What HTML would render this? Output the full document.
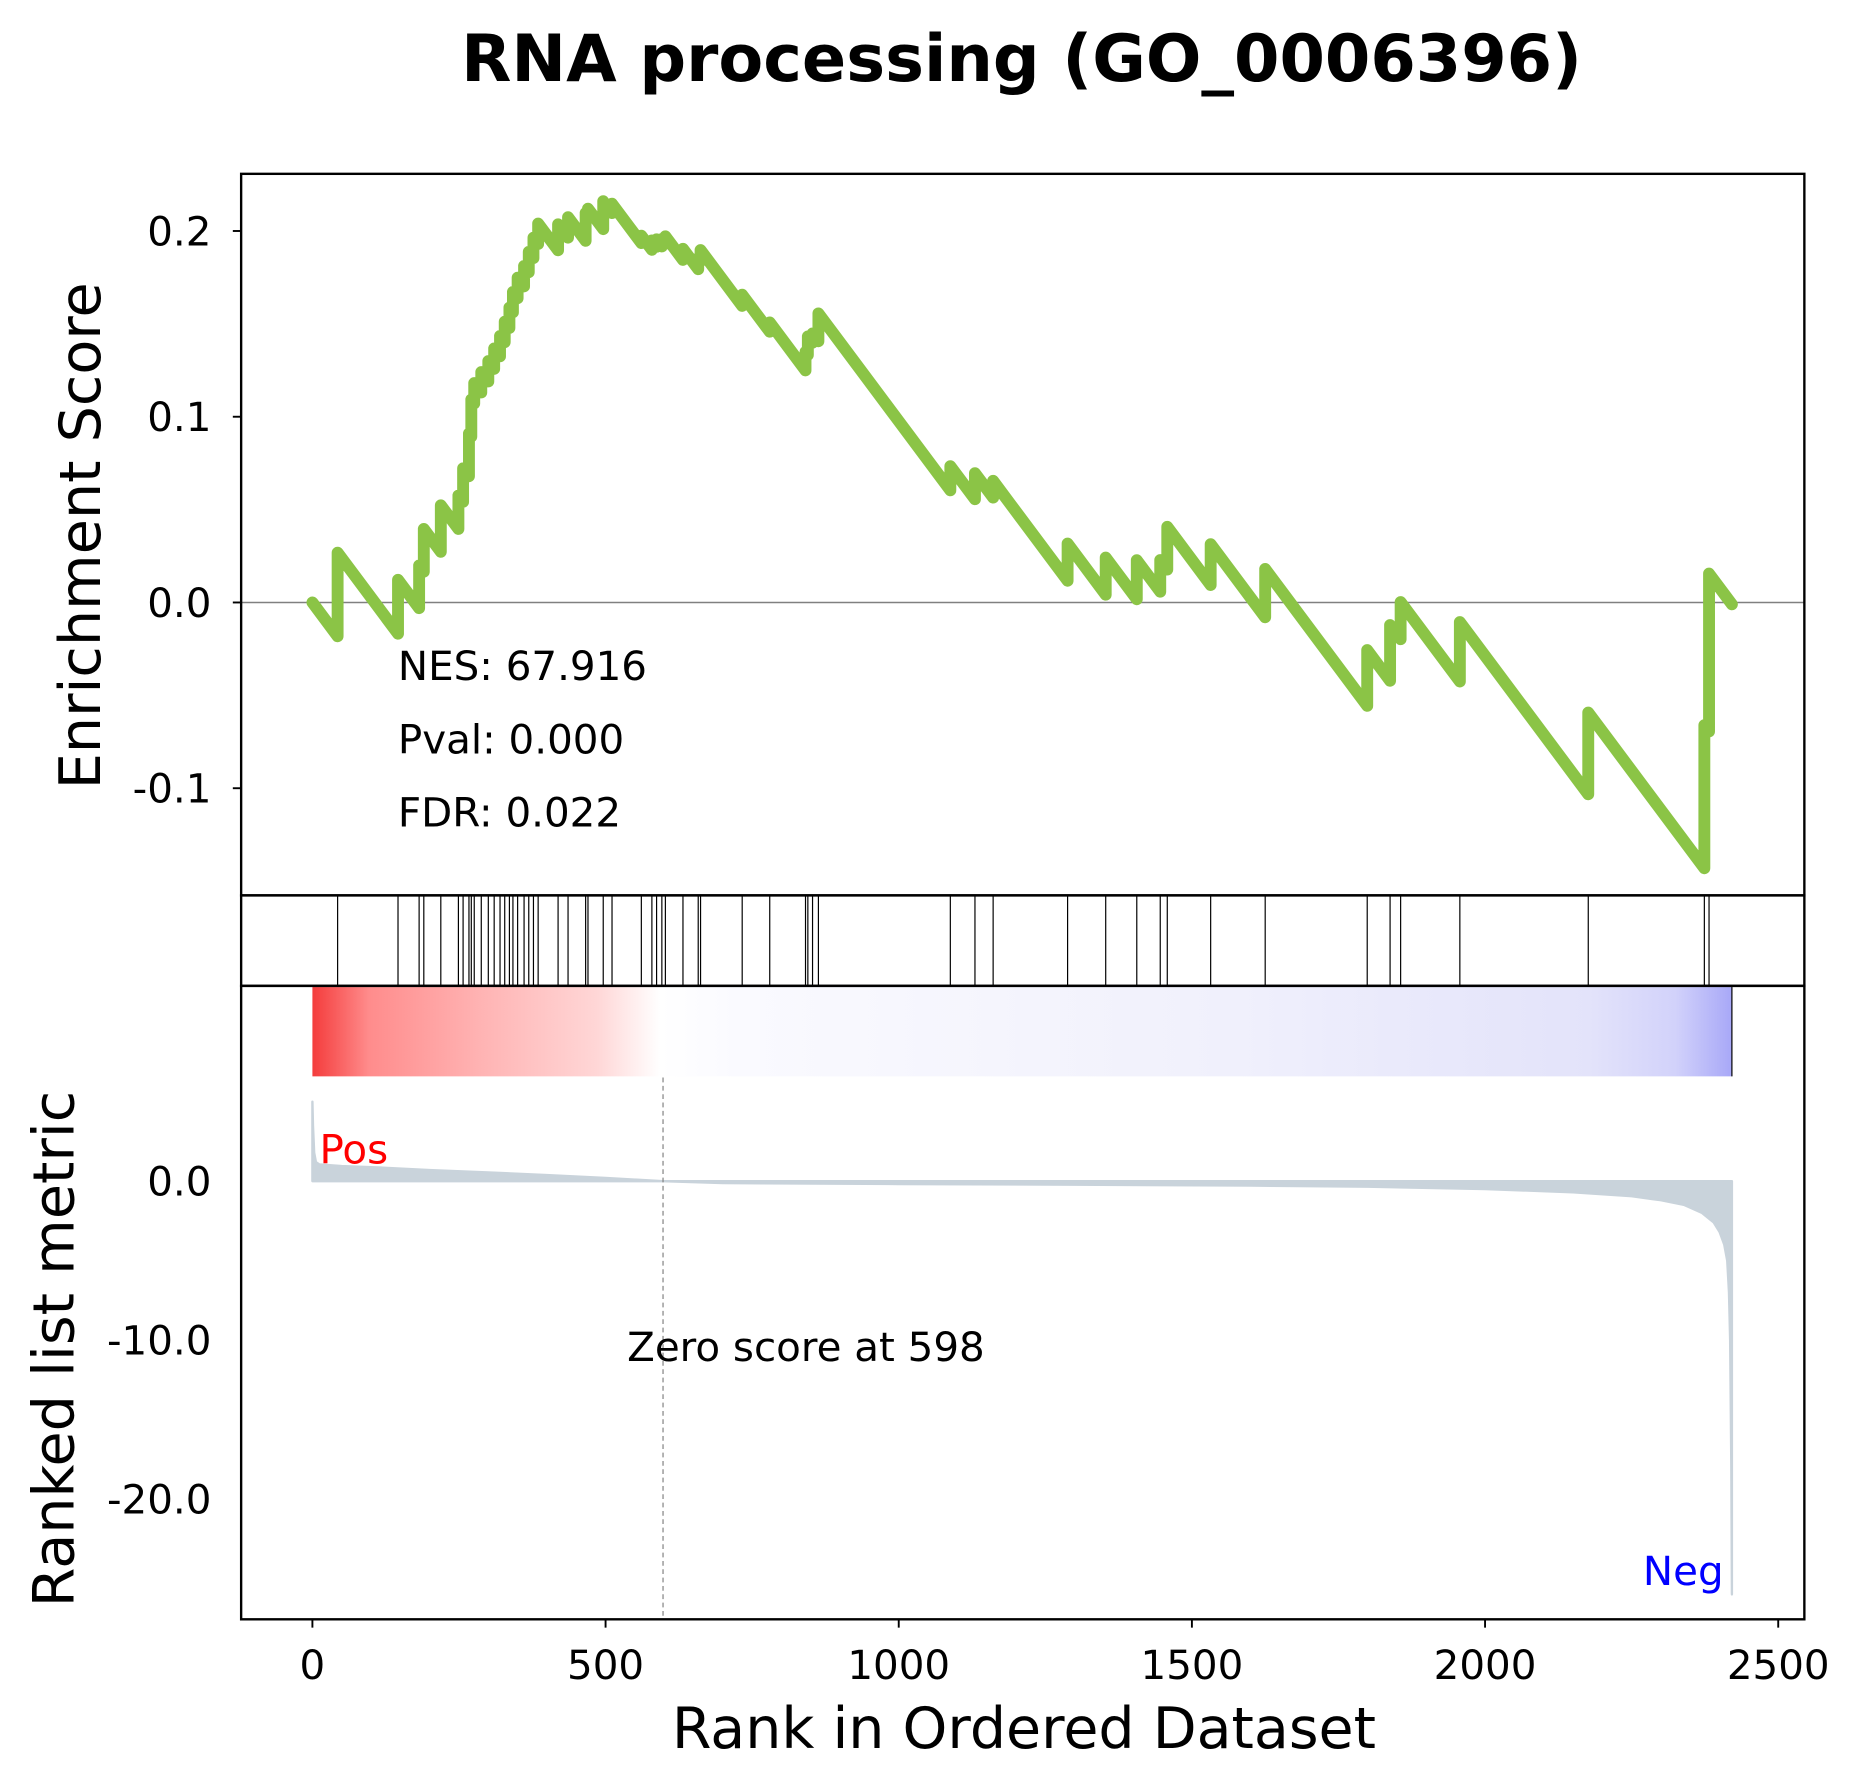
<!DOCTYPE html>
<html><head><meta charset="utf-8"><style>html,body{margin:0;padding:0;background:#fff}svg{display:block}text{font-family:"DejaVu Sans","Liberation Sans",sans-serif}</style></head>
<body>
<svg id="chart" width="1859" height="1786" viewBox="0 0 1565 1500" preserveAspectRatio="none" xmlns="http://www.w3.org/2000/svg">
<defs>
<linearGradient id="cbar" x1="0" x2="1" y1="0" y2="0">
<stop offset="0" stop-color="#f43c3c"/><stop offset="0.04" stop-color="#ff8c8c"/><stop offset="0.12" stop-color="#ffb4b4"/><stop offset="0.2" stop-color="#ffd6d6"/><stop offset="0.245" stop-color="#ffffff"/><stop offset="0.3" stop-color="#fafaff"/><stop offset="0.48" stop-color="#f5f5fd"/><stop offset="0.65" stop-color="#f0f0fc"/><stop offset="0.78" stop-color="#e9e9fb"/><stop offset="0.9" stop-color="#e3e3fa"/><stop offset="0.96" stop-color="#d2d2fa"/><stop offset="1" stop-color="#a8a8f8"/>
</linearGradient>
</defs>
<text x="860" y="68" font-size="55" font-weight="bold" text-anchor="middle">RNA processing (GO_0006396)</text>
<g id="es"></g><g id="hits"></g><g id="rk"></g>
<rect x="203" y="146" width="1316" height="606" fill="none" stroke="#000" stroke-width="2"/>
<rect x="203" y="752" width="1316" height="76" fill="none" stroke="#000" stroke-width="2"/>
<rect x="203" y="828" width="1316" height="532" fill="none" stroke="#000" stroke-width="2"/>
<text transform="translate(84,450) rotate(-90)" font-size="48" text-anchor="middle">Enrichment Score</text>
<text transform="translate(62,1133) rotate(-90)" font-size="48" text-anchor="middle">Ranked list metric</text>
<text x="862" y="1468" font-size="48" text-anchor="middle">Rank in Ordered Dataset</text>
<text x="335" y="571" font-size="34">NES: 67.916</text>
<text x="335" y="633" font-size="34">Pval: 0.000</text>
<text x="335" y="694" font-size="34">FDR: 0.022</text>
<text x="269" y="977" font-size="34" fill="#ff0000">Pos</text>
<text x="1451" y="1331" font-size="34" fill="#0000ff" text-anchor="end">Neg</text>
<text x="528" y="1143" font-size="34">Zero score at 598</text>
</svg>
<script>
const hitRanks=[43,146,182,190,219,249,257,267,271,276,288,300,310,320,328,336,342,350,361,369,377,385,419,436,466,470,496,511,561,579,587,596,602,632,658,662,733,780,841,845,853,863,1088,1130,1161,1288,1353,1406,1446,1458,1532,1625,1799,1838,1856,1957,2176,2374,2382];
const hitJumps=[0.045,0.029,0.023,0.023,0.025,0.018,0.018,0.023,0.02,0.011,0.011,0.011,0.011,0.011,0.011,0.011,0.011,0.011,0.011,0.011,0.011,0.011,0.014,0.011,0.015,0.004,0.015,0.005,0.004,0.005,0.004,0.004,0.004,0.006,0.006,0.006,0.006,0.005,0.01,0.01,0.005,0.015,0.013,0.014,0.009,0.02,0.02,0.021,0.017,0.023,0.022,0.026,0.03,0.03,0.02,0.032,0.044,0.077,0.085];
const totalGenes=2421;
const metricRanks=[0,1,3,6,12,50,120,200,300,400,500,598,700,1000,1300,1600,1800,2000,2150,2250,2300,2340,2370,2390,2400,2408,2413,2416,2418,2420,2421];
const metricValues=[5,3.5,1.8,1.2,1.05,0.95,0.85,0.7,0.55,0.38,0.2,0,-0.12,-0.18,-0.22,-0.28,-0.35,-0.5,-0.7,-0.95,-1.2,-1.5,-2,-2.6,-3.2,-4,-5,-7,-10,-18,-26];
const zeroRank=598;
const xTicks=[0,500,1000,1500,2000,2500];
const esTicks=[0.2,0.1,0.0,-0.1];
const esTickLabels=["0.2","0.1","0.0","-0.1"];
const metricTicks=[0,-10,-20];
const metricTickLabels=["0.0","-10.0","-20.0"];

const NS='http://www.w3.org/2000/svg';
const xs=r=>263+r*0.4936;
const ys=v=>506-v*1560;
const ym=v=>992-v*13.35;
function mk(tag,attrs,parent){const e=document.createElementNS(NS,tag);for(const k in attrs)e.setAttribute(k,attrs[k]);parent.appendChild(e);return e;}
const svg=document.getElementById('chart');
const gES=document.getElementById('es'),gH=document.getElementById('hits'),gR=document.getElementById('rk');

let bl=mk('line',{x1:203,x2:1519,y1:ys(0),y2:ys(0),stroke:'#808080','stroke-width':1.2},gES);



const nh=hitRanks.length;
const down=1/(totalGenes-nh);
let pts=[[0,0]],es=0,prev=0;
for(let i=0;i<nh;i++){es-=down*(hitRanks[i]-prev);pts.push([hitRanks[i],es]);es+=hitJumps[i];pts.push([hitRanks[i],es]);prev=hitRanks[i];}
es-=down*(totalGenes-prev);pts.push([totalGenes,es]);
let esl=mk('polyline',{points:pts.map(p=>xs(p[0]).toFixed(2)+','+ys(p[1]).toFixed(2)).join(' '),fill:'none',stroke:'#8bc446','stroke-width':10,'stroke-linejoin':'round','stroke-linecap':'round'},gES);



hitRanks.forEach(r=>{const l=mk('line',{x1:xs(r),x2:xs(r),y1:752,y2:828,stroke:'#000','stroke-width':1},gH);

});

let cb=mk('rect',{x:xs(0),y:829,width:xs(totalGenes)-xs(0),height:75,fill:'url(#cbar)'},gR);


let cbe=mk('line',{x1:xs(totalGenes),x2:xs(totalGenes),y1:829,y2:904,stroke:'#000','stroke-width':1},gR);



let d='M'+xs(0)+','+ym(0);
metricRanks.forEach((r,i)=>{d+=' L'+xs(r).toFixed(2)+','+ym(metricValues[i]).toFixed(2);});
d+=' L'+xs(metricRanks[metricRanks.length-1])+','+ym(0)+' Z';
let ar=mk('path',{d:d,fill:'#c9d3db',stroke:'#c9d3db','stroke-width':2,'stroke-linejoin':'round'},gR);



let zl=mk('line',{x1:xs(zeroRank),x2:xs(zeroRank),y1:905,y2:1360,stroke:'#808080','stroke-width':1,'stroke-dasharray':'4,3'},gR);



xTicks.forEach(t=>{const l=mk('line',{x1:xs(t),x2:xs(t),y1:1360,y2:1367,stroke:'#000','stroke-width':1.6},svg);


const tx=mk('text',{x:xs(t),y:1410,'font-size':34,'text-anchor':'middle'},svg);tx.textContent=String(t);

});
esTicks.forEach((t,i)=>{const l=mk('line',{x1:196,x2:203,y1:ys(t),y2:ys(t),stroke:'#000','stroke-width':1.6},svg);


const tx=mk('text',{x:178,y:ys(t)+12,'font-size':34,'text-anchor':'end'},svg);tx.textContent=esTickLabels[i];

});
metricTicks.forEach((t,i)=>{const tx=mk('text',{x:178,y:ym(t)+12,'font-size':34,'text-anchor':'end'},svg);tx.textContent=metricTickLabels[i];

});
</script>
</body></html>
